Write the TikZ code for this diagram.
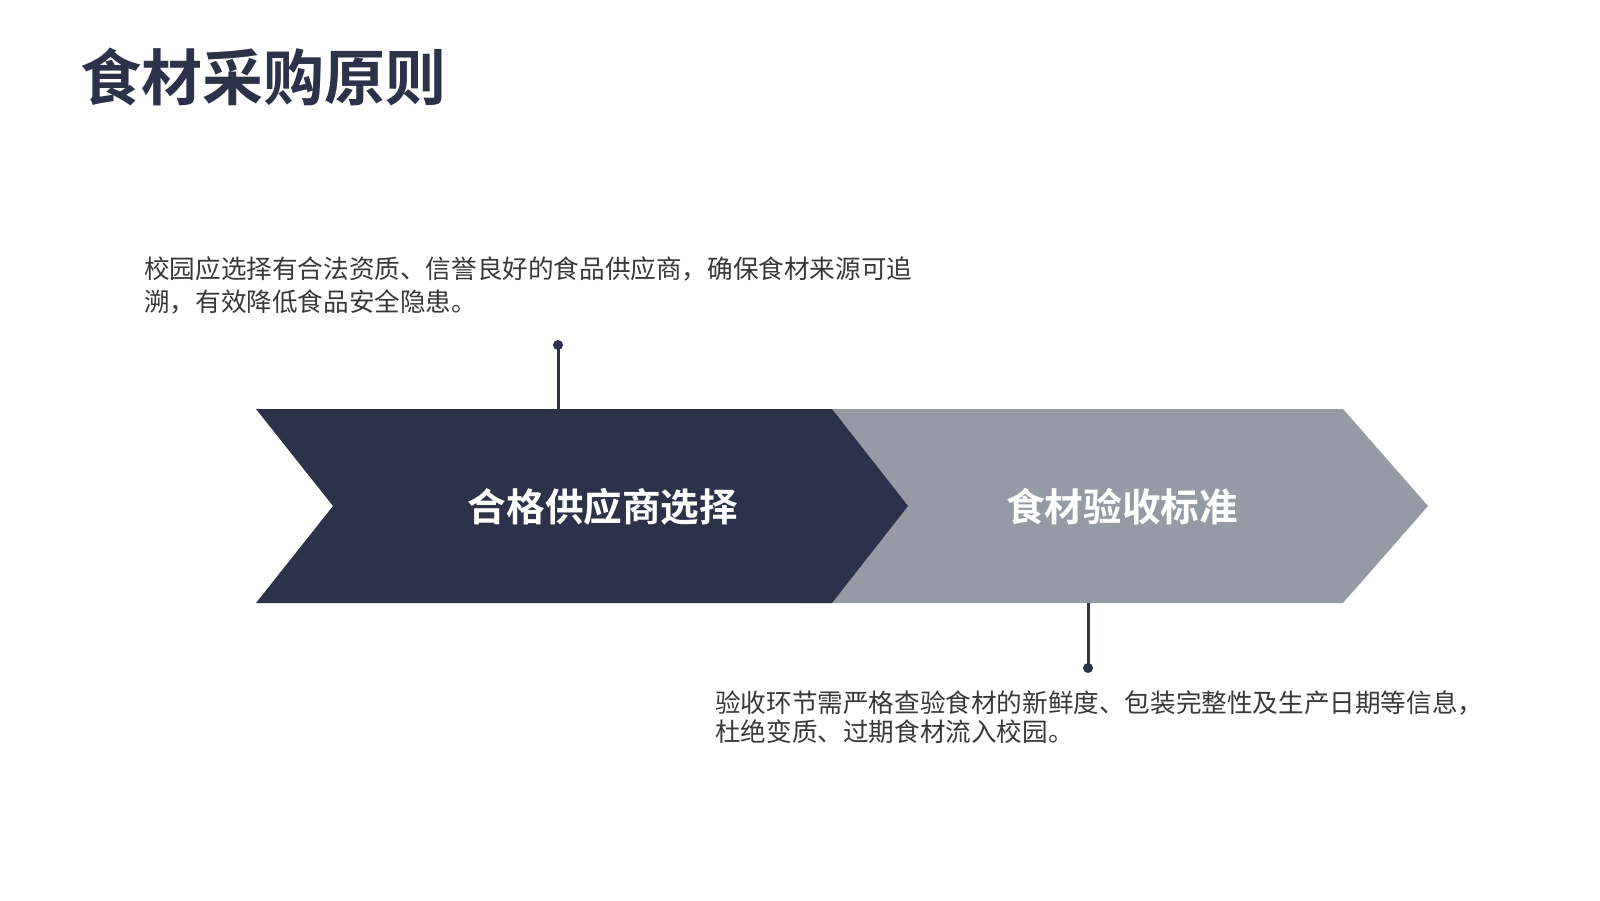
\documentclass[tikz,border=0pt]{standalone}
\usepackage{fontspec}
\newfontfamily\cjk{Noto Sans CJK SC}[BoldFont={Noto Sans CJK SC Bold}]
\definecolor{navy}{HTML}{2B3249}
\definecolor{slate}{HTML}{959AA5}
\definecolor{bodytext}{HTML}{383838}

\begin{document}
\begin{tikzpicture}[x=1pt,y=-1pt,
    heading/.style={anchor=west, inner sep=0pt, text=navy, font=\cjk\bfseries\fontsize{61}{61}\selectfont},
    chevlabel/.style={inner sep=0pt, text=white, font=\cjk\bfseries\fontsize{38.6}{38.6}\selectfont},
    note/.style={anchor=west, inner sep=0pt, align=left, text=bodytext},
    pin/.style={navy, line width=3pt}]

    % Page frame
    \useasboundingbox (0,0) rectangle (1600,900);

    % Title
    \node[heading] (title) at (80,76.5) {食材采购原则};

    % Define points of the two chevrons
    \coordinate (A1) at (256,409); % Top left
    \coordinate (A2) at (832,409); % Top right
    \coordinate (A3) at (908,506); % Tip
    \coordinate (A4) at (832,603); % Bottom right
    \coordinate (A5) at (256,603); % Bottom left
    \coordinate (A6) at (333,506); % Notch
    \coordinate (B1) at (800,409);
    \coordinate (B2) at (1343,409);
    \coordinate (B3) at (1428,506);
    \coordinate (B4) at (1343,603);
    \coordinate (B5) at (800,603);

    % Draw the gray chevron first, the dark one over it
    \fill[slate] (B1) -- (B2) -- (B3) -- (B4) -- (B5) -- cycle;
    \fill[navy] (A1) -- (A2) -- (A3) -- (A4) -- (A5) -- (A6) -- cycle;

    % Labels on the chevrons
    \node[chevlabel] (stepA) at (603,507) {合格供应商选择};
    \node[chevlabel] (stepB) at (1122,507) {食材验收标准};

    % Pins to the notes
    \coordinate (dotA) at (558,345);
    \coordinate (footA) at (558,409);
    \coordinate (dotB) at (1088,668);
    \coordinate (footB) at (1088,603);
    \draw[pin] (footA) -- (dotA);
    \draw[pin] (footB) -- (dotB);
    \fill[navy] (dotA) circle (5);
    \fill[navy] (dotB) circle (5);

    % Notes
    \node[note, font=\cjk\fontsize{25.6}{33}\selectfont] (noteA) at (144,285)
        {校园应选择有合法资质、信誉良好的食品供应商，确保食材来源可追\\溯，有效降低食品安全隐患。};
    \node[note, font=\cjk\fontsize{25.6}{29.5}\selectfont] (noteB) at (715,717)
        {验收环节需严格查验食材的新鲜度、包装完整性及生产日期等信息，\\杜绝变质、过期食材流入校园。};

\end{tikzpicture}
\end{document}
